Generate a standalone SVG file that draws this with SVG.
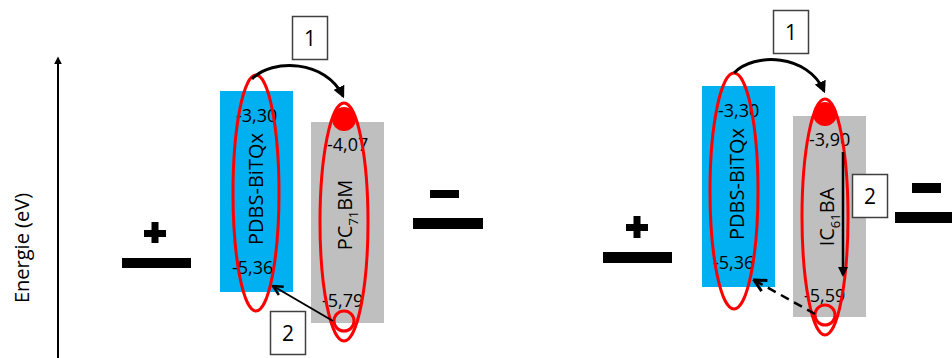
<svg xmlns="http://www.w3.org/2000/svg" width="952" height="358" viewBox="0 0 952 358">
<style>
text{font-family:"Open Sans","Liberation Sans",sans-serif;fill:#000}
.num{font-size:18px}
.lab{font-size:20px}
.sub{font-size:13px}
.donor{fill:#00B0F0}
.acc{fill:#BFBFBF}
.ring{fill:none;stroke:#FF0000;stroke-width:3}
.bar{fill:#000}
.box{fill:#fff;stroke:#404040;stroke-width:1.5}
.boxt{font-size:21px}
.conn{fill:none;stroke:#000}
</style>
<defs>
<marker id="ah" viewBox="0 0 10 10" refX="8" refY="5" markerWidth="4" markerHeight="4" orient="auto">
<path d="M0 0 L10 5 L0 10 z" fill="#000"/>
</marker>
<marker id="ahv" viewBox="0 0 10 10" refX="9" refY="5" markerWidth="6" markerHeight="6" orient="auto">
<path d="M1 1 L9 5 L1 9" fill="none" stroke="#000" stroke-width="2"/>
</marker>
</defs>

<g id="axis">
<line class="conn" x1="58" y1="358" x2="58" y2="58" stroke-width="2" marker-end="url(#ah)"/>
<text class="lab" transform="translate(29,248) rotate(-90)" text-anchor="middle">Energie (eV)</text>
</g>

<!-- Left panel -->
<g id="plusL">
<rect class="bar" x="144" y="230" width="22" height="7"/>
<rect class="bar" x="151.5" y="222" width="7" height="21"/>
<rect class="bar" x="122" y="258" width="69" height="10"/>
</g>
<g id="donorL">
<rect class="donor" x="220" y="91" width="73" height="201"/>
<text class="lab" transform="translate(263,189) rotate(-90)" text-anchor="middle">PDBS-BiTQx</text>
<text class="num" x="236" y="122">-3,30</text>
<text class="num" x="232" y="274">-5,36</text>
<ellipse class="ring" cx="256" cy="193" rx="23" ry="118"/>
</g>
<g id="accL">
<rect class="acc" x="311" y="122" width="73" height="201"/>
<text class="lab" transform="translate(352,215) rotate(-90)" text-anchor="middle">PC<tspan class="sub" dy="6">71</tspan><tspan dy="-6">BM</tspan></text>
<text class="num" x="327" y="151">-4,07</text>
<text class="num" x="322" y="307">-5,79</text>
<ellipse class="ring" cx="344" cy="222" rx="24" ry="119"/>
<circle cx="344" cy="119" r="12" fill="#FF0000"/>
<circle class="ring" cx="344" cy="321" r="10"/>
</g>
<g id="minusL">
<rect class="bar" x="430" y="190" width="29" height="8"/>
<rect class="bar" x="413" y="218" width="70" height="11"/>
</g>
<g id="box1L">
<rect class="box" x="292.5" y="16.5" width="35" height="43"/>
<text class="boxt" x="310" y="46" text-anchor="middle">1</text>
</g>
<g id="box2L">
<rect class="box" x="270.5" y="311.5" width="35" height="43"/>
<text class="boxt" x="288" y="341" text-anchor="middle">2</text>
</g>

<!-- Right panel -->
<g id="plusR">
<rect class="bar" x="626" y="224" width="22" height="7"/>
<rect class="bar" x="633.5" y="216" width="7" height="22"/>
<rect class="bar" x="603" y="252" width="69" height="11"/>
</g>
<g id="donorR">
<rect class="donor" x="702" y="86" width="73" height="201"/>
<text class="lab" transform="translate(744,184) rotate(-90)" text-anchor="middle">PDBS-BiTQx</text>
<text class="num" x="718" y="117">-3,30</text>
<text class="num" x="713" y="269">-5,36</text>
<ellipse class="ring" cx="734" cy="191" rx="24" ry="118"/>
</g>
<g id="accR">
<rect class="acc" x="793" y="116" width="73" height="201"/>
<text class="lab" transform="translate(834,217) rotate(-90)" text-anchor="middle">IC<tspan class="sub" dy="6">61</tspan><tspan dy="-6">BA</tspan></text>
<text class="num" x="809" y="146">-3,90</text>
<text class="num" x="804" y="302">-5,59</text>
<ellipse class="ring" cx="825" cy="217" rx="23" ry="118"/>
<circle cx="825" cy="114" r="12" fill="#FF0000"/>
<circle class="ring" cx="825" cy="315" r="10"/>
</g>
<g id="minusR">
<rect class="bar" x="912" y="183" width="29" height="10"/>
<rect class="bar" x="895" y="212" width="57" height="11"/>
</g>
<g id="box1R">
<rect class="box" x="773.5" y="10.5" width="35" height="43"/>
<text class="boxt" x="791" y="40" text-anchor="middle">1</text>
</g>
<g id="box2R">
<rect class="box" x="852.5" y="174.5" width="35" height="43"/>
<text class="boxt" x="870" y="204" text-anchor="middle">2</text>
</g>

<g id="connectors">
<path class="conn" stroke-width="3" d="M252 79 C272 58 326 60 343 96" marker-end="url(#ah)"/>
<line class="conn" stroke-width="2" x1="333" y1="321" x2="273" y2="286" marker-end="url(#ahv)"/>
<path class="conn" stroke-width="3" d="M734 73 C754 52 808 54 824 91" marker-end="url(#ah)"/>
<line class="conn" stroke-width="2.5" x1="843" y1="152" x2="843" y2="275" marker-end="url(#ah)"/>
<line class="conn" stroke-width="2.5" stroke-dasharray="9,6" x1="815" y1="314" x2="754" y2="280" marker-end="url(#ahv)"/>
</g>
</svg>
